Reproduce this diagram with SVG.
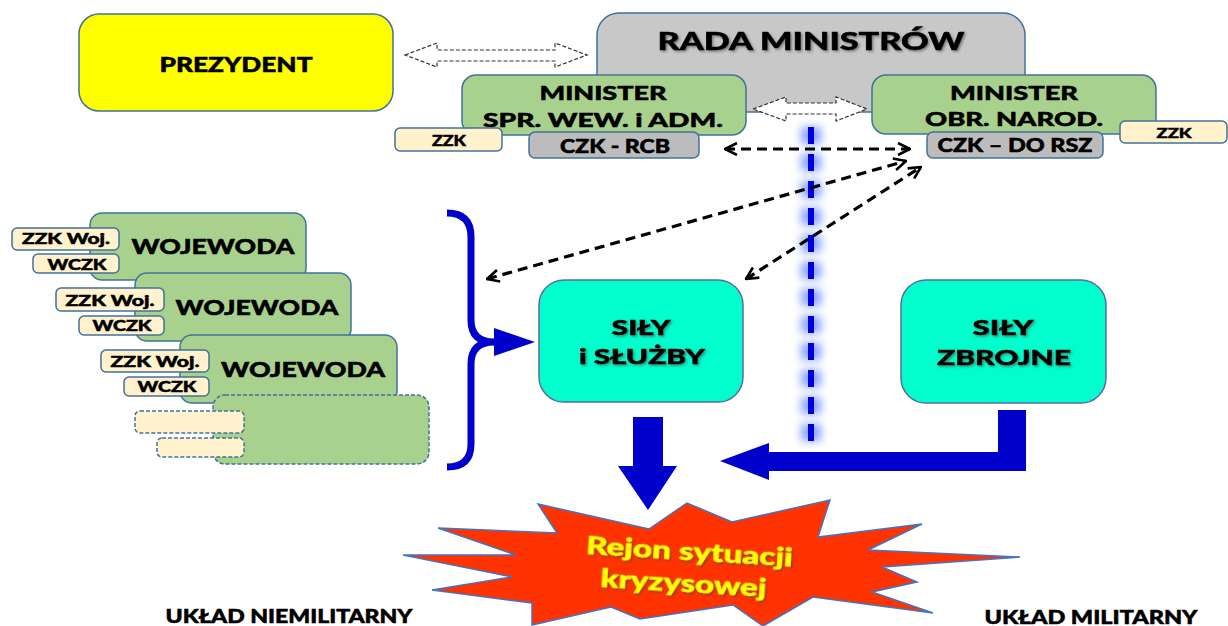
<svg xmlns="http://www.w3.org/2000/svg" width="1228" height="626" viewBox="0 0 1228 626">
<style>
.t{font-family:Lato,"Liberation Sans",sans-serif;font-weight:900;text-anchor:middle;fill:#000;stroke:#000;stroke-width:0.5}
.b{stroke:#41719C;stroke-width:1.5}
.yel{fill:#FFFF00}
.gray{fill:#C8C8C8}
.grn{fill:#A9D18E}
.crm{fill:#FFF2CC}
.czk{fill:#BCBCBC}
.aqua{fill:#00FFCC;stroke:#5A6BA8;stroke-width:1.5}
.dsh{stroke-dasharray:4 2}
.hol{fill:#fff;stroke:#333;stroke-width:1.2;stroke-dasharray:4 2}
.blk{fill:none;stroke:#000;stroke-width:3.2;stroke-dasharray:10 6}
.blue{fill:#0000CC}
.ytx{fill:#FFFF00;stroke:#FFFF00;stroke-width:0.4}
</style>
<defs>
<marker id="ch" viewBox="0 0 14 14" refX="13" refY="7" markerWidth="14" markerHeight="14" markerUnits="userSpaceOnUse" orient="auto-start-reverse">
<path d="M1,1 L13,7 L1,13" fill="none" stroke="#000" stroke-width="2.6"/>
</marker>
<filter id="sh" x="-10%" y="-30%" width="120%" height="160%">
<feDropShadow dx="1.5" dy="1.5" stdDeviation="1" flood-color="#444" flood-opacity="0.6"/>
</filter>
<filter id="glow" filterUnits="userSpaceOnUse" x="780" y="110" width="62" height="350">
<feGaussianBlur stdDeviation="4"/>
</filter>
</defs>

<g id="rada">
<rect class="b gray" x="597" y="13" width="428" height="99" rx="22"/>
<text class="t" x="811" y="50" font-size="24" textLength="307" lengthAdjust="spacingAndGlyphs" filter="url(#sh)">RADA MINISTRÓW</text>
</g>

<g id="prezydent">
<rect class="b yel" x="79" y="14" width="314" height="97" rx="20"/>
<text class="t" x="236" y="72" font-size="21" textLength="153" lengthAdjust="spacingAndGlyphs">PREZYDENT</text>
</g>

<g id="minister-swia">
<rect class="b grn" x="462" y="75" width="284" height="60" rx="14"/>
<text class="t" x="603" y="100" font-size="19.5" textLength="127" lengthAdjust="spacingAndGlyphs">MINISTER</text>
<text class="t" x="603" y="127" font-size="19.5" textLength="240" lengthAdjust="spacingAndGlyphs">SPR. WEW. i ADM.</text>
</g>
<g id="zzk-left">
<rect class="b crm" x="395" y="128" width="107" height="23" rx="5"/>
<text class="t" x="449" y="146" font-size="15" textLength="34" lengthAdjust="spacingAndGlyphs">ZZK</text>
</g>
<g id="czk-rcb">
<rect class="b czk" x="529" y="132" width="170" height="26" rx="6"/>
<text class="t" x="615" y="153" font-size="18" textLength="110" lengthAdjust="spacingAndGlyphs">CZK - RCB</text>
</g>

<g id="minister-mon">
<rect class="b grn" x="872" y="75" width="284" height="59" rx="14"/>
<text class="t" x="1014" y="100" font-size="19.5" textLength="128" lengthAdjust="spacingAndGlyphs">MINISTER</text>
<text class="t" x="1014" y="126" font-size="19.5" textLength="178" lengthAdjust="spacingAndGlyphs">OBR. NAROD.</text>
</g>
<g id="czk-rsz">
<rect class="b czk" x="927" y="132" width="176" height="26" rx="6"/>
<text class="t" x="1015" y="152" font-size="18" textLength="155" lengthAdjust="spacingAndGlyphs">CZK – DO RSZ</text>
</g>
<g id="zzk-right">
<rect class="b crm" x="1120" y="121" width="107" height="22" rx="5"/>
<text class="t" x="1174" y="138" font-size="14" textLength="35" lengthAdjust="spacingAndGlyphs">ZZK</text>
</g>

<g id="wojewoda-1">
<rect class="b grn" x="90" y="213" width="216" height="67" rx="12"/>
<text class="t" x="213" y="254" font-size="21" textLength="163" lengthAdjust="spacingAndGlyphs">WOJEWODA</text>
<rect class="b crm" x="12" y="228" width="107" height="22" rx="5"/>
<text class="t" x="66" y="244" font-size="15" textLength="88" lengthAdjust="spacingAndGlyphs">ZZK Woj.</text>
<rect class="b crm" x="33" y="254" width="86" height="19" rx="5"/>
<text class="t" x="77" y="270" font-size="15" textLength="59" lengthAdjust="spacingAndGlyphs">WCZK</text>
</g>
<g id="wojewoda-2">
<rect class="b grn" x="135" y="273" width="216" height="68" rx="12"/>
<text class="t" x="257" y="315" font-size="21" textLength="163" lengthAdjust="spacingAndGlyphs">WOJEWODA</text>
<rect class="b crm" x="56" y="288" width="108" height="23" rx="5"/>
<text class="t" x="110" y="306" font-size="15" textLength="89" lengthAdjust="spacingAndGlyphs">ZZK Woj.</text>
<rect class="b crm" x="79" y="316" width="85" height="19" rx="5"/>
<text class="t" x="122" y="331" font-size="15" textLength="59" lengthAdjust="spacingAndGlyphs">WCZK</text>
</g>
<g id="wojewoda-3">
<rect class="b grn" x="180" y="335" width="217" height="68" rx="12"/>
<text class="t" x="303" y="377" font-size="21" textLength="164" lengthAdjust="spacingAndGlyphs">WOJEWODA</text>
<rect class="b crm" x="101" y="350" width="108" height="22" rx="5"/>
<text class="t" x="155" y="367" font-size="15" textLength="89" lengthAdjust="spacingAndGlyphs">ZZK Woj.</text>
<rect class="b crm" x="124" y="377" width="85" height="19" rx="5"/>
<text class="t" x="167" y="392" font-size="15" textLength="59" lengthAdjust="spacingAndGlyphs">WCZK</text>
</g>
<g id="wojewoda-4">
<rect class="b grn dsh" x="213" y="395" width="216" height="69" rx="12"/>
<rect class="b crm dsh" x="135" y="411" width="109" height="22" rx="5"/>
<rect class="b crm dsh" x="157" y="438" width="87" height="19" rx="5"/>
</g>

<g id="sily-sluzby">
<rect class="aqua" x="539" y="280" width="204" height="122" rx="25"/>
<text class="t" x="641" y="335" font-size="21" textLength="59" lengthAdjust="spacingAndGlyphs" filter="url(#sh)">SIŁY</text>
<text class="t" x="642" y="364" font-size="21" textLength="126" lengthAdjust="spacingAndGlyphs" filter="url(#sh)">i SŁUŻBY</text>
</g>
<g id="sily-zbrojne">
<rect class="aqua" x="901" y="280" width="205" height="123" rx="25"/>
<text class="t" x="1003" y="335" font-size="21" textLength="61" lengthAdjust="spacingAndGlyphs" filter="url(#sh)">SIŁY</text>
<text class="t" x="1004" y="365" font-size="21" textLength="134" lengthAdjust="spacingAndGlyphs" filter="url(#sh)">ZBROJNE</text>
</g>

<g id="rejon">
<polygon points="538,504 649,529 687,503 732,522 830,500 818,537 922,524 868,550 1020,557 882,567 917,582 872,592 933,613 813,597 763,626 733,605 640,619 611,607 532,625 532,603 432,590 512,577 403,555 516,555 438,528 557,533" fill="#FF3300" stroke="#4472C4" stroke-width="1.5" stroke-linejoin="miter"/>
<g transform="rotate(3.5 686 575)" filter="url(#sh)">
<text class="t ytx" x="688" y="560" font-size="25" textLength="207" lengthAdjust="spacingAndGlyphs">Rejon sytuacji</text>
<text class="t ytx" x="684" y="592" font-size="25" textLength="166" lengthAdjust="spacingAndGlyphs">kryzysowej</text>
</g>
</g>

<g id="labels">
<text class="t" x="289" y="623" font-size="18" textLength="247" lengthAdjust="spacingAndGlyphs">UKŁAD NIEMILITARNY</text>
<text class="t" x="1091" y="624" font-size="18" textLength="213" lengthAdjust="spacingAndGlyphs">UKŁAD MILITARNY</text>
</g>

<g id="connectors">
<polygon class="hol" points="405,55 437,43 437,50 555,50 555,43 587,55 555,67 555,61 437,61 437,67"/>
<polygon class="hol" points="753,109 786,97 786,103 836,103 836,97 867,109 836,121 836,114 786,114 786,121"/>
<line x1="811" y1="127" x2="811" y2="442" stroke="#3A66FF" stroke-width="20" stroke-dasharray="17 10" opacity="0.6" filter="url(#glow)"/>
<line x1="811" y1="127" x2="811" y2="442" stroke="#0000DD" stroke-width="6" stroke-dasharray="17 10"/>
<line class="blk" x1="725" y1="149" x2="910" y2="149" marker-start="url(#ch)" marker-end="url(#ch)"/>
<line class="blk" x1="487" y1="279" x2="906" y2="161" marker-start="url(#ch)" marker-end="url(#ch)"/>
<line class="blk" x1="746" y1="279" x2="921" y2="167" marker-start="url(#ch)" marker-end="url(#ch)"/>
<path d="M447,213 Q471,213 471,237 L471,320 Q471,342 494,342 Q471,342 471,364 L471,444 Q471,467 447,467" fill="none" stroke="#0000CC" stroke-width="7"/>
<polygon class="blue" points="494,328 535,342 494,356"/>
<polygon class="blue" points="633,417 663,417 663,466 677,466 648,510 618,466 633,466"/>
<polygon class="blue" points="998,410 1026,410 1026,471 769,471 769,480 720,461 769,443 769,452 998,452"/>
</g>
</svg>
